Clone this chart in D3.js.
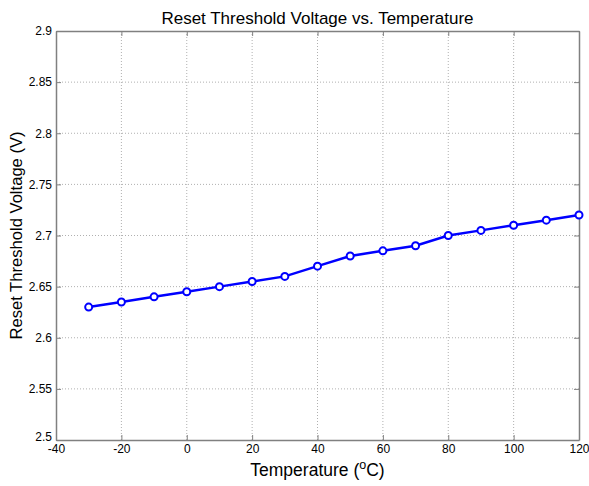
<!DOCTYPE html>
<html>
<head>
<meta charset="utf-8">
<script src="https://cdn.jsdelivr.net/npm/d3@7"></script>
<style>
  body { margin: 0; background: #fff; }
  text { font-family: "Liberation Sans", Arial, sans-serif; }
</style>
</head>
<body>
<div id="chart"></div>
<script>
// Reset threshold voltage vs temperature
const temps = [-30, -20, -10, 0, 10, 20, 30, 40, 50, 60, 70, 80, 90, 100, 110, 120];
const volts = [2.63, 2.635, 2.64, 2.645, 2.65, 2.655, 2.66, 2.67, 2.68, 2.685, 2.69, 2.70, 2.705, 2.71, 2.715, 2.72];
const xTicks = [-40, -20, 0, 20, 40, 60, 80, 100, 120];
const yTicks = [2.5, 2.55, 2.6, 2.65, 2.7, 2.75, 2.8, 2.85, 2.9];

const width = 589, height = 486;
const margin = { top: 31, right: 10, bottom: 46, left: 56 };
const innerW = width - margin.left - margin.right;
const innerH = height - margin.top - margin.bottom;

const svg = d3.select('#chart')
  .append('svg')
  .attr('width', width)
  .attr('height', height);

const x = d3.scaleLinear().domain([-40, 120]).range([margin.left, margin.left + innerW]);
const y = d3.scaleLinear().domain([2.5, 2.9]).range([margin.top + innerH, margin.top]);

const gridColor = '#b0b0b0';

// Grid
svg.append('g')
  .selectAll('line')
  .data(xTicks.slice(1, -1))
  .enter().append('line')
  .attr('x1', d => x(d)).attr('x2', d => x(d))
  .attr('y1', margin.top).attr('y2', margin.top + innerH)
  .attr('stroke', gridColor).attr('stroke-width', 1)
  .attr('stroke-dasharray', '1,2');

svg.append('g')
  .selectAll('line')
  .data(yTicks.slice(1, -1))
  .enter().append('line')
  .attr('y1', d => y(d)).attr('y2', d => y(d))
  .attr('x1', margin.left).attr('x2', margin.left + innerW)
  .attr('stroke', gridColor).attr('stroke-width', 1)
  .attr('stroke-dasharray', '1,2');

// Axes (MATLAB style: inward ticks, box)
const fmt = d => String(+d.toFixed(2));
const axBottom = svg.append('g')
  .attr('transform', `translate(0,${margin.top + innerH})`)
  .call(d3.axisBottom(x).tickValues(xTicks).tickFormat(fmt).tickSize(-5).tickPadding(4).tickSizeOuter(0));
const axTop = svg.append('g')
  .attr('transform', `translate(0,${margin.top})`)
  .call(d3.axisTop(x).tickValues(xTicks).tickSize(-5).tickFormat('').tickSizeOuter(0));
const axLeft = svg.append('g')
  .attr('transform', `translate(${margin.left},0)`)
  .call(d3.axisLeft(y).tickValues(yTicks).tickFormat(fmt).tickSize(-5).tickPadding(4).tickSizeOuter(0));
const axRight = svg.append('g')
  .attr('transform', `translate(${margin.left + innerW},0)`)
  .call(d3.axisRight(y).tickValues(yTicks).tickSize(-5).tickFormat('').tickSizeOuter(0));

[axBottom, axTop, axLeft, axRight].forEach(g => {
  g.selectAll('path').attr('stroke', '#808080').attr('stroke-width', 1.5);
  g.selectAll('line').attr('stroke', '#808080');
  g.selectAll('text').attr('font-size', 12).attr('fill', '#000')
    .style('font-family', '"Liberation Sans", Arial, sans-serif');
});
axLeft.selectAll('text').attr('dy', d => d === 2.5 ? '0.05em' : '0.32em');

// Line
const line = d3.line()
  .x((d, i) => x(temps[i]))
  .y(d => y(d));

svg.append('path')
  .datum(volts)
  .attr('fill', 'none')
  .attr('stroke', '#0000ff')
  .attr('stroke-width', 2.5)
  .attr('d', line);

svg.append('g')
  .selectAll('circle')
  .data(volts)
  .enter().append('circle')
  .attr('cx', (d, i) => x(temps[i]))
  .attr('cy', d => y(d))
  .attr('r', 3.5)
  .attr('fill', '#fff')
  .attr('stroke', '#0000ff')
  .attr('stroke-width', 2);

// Title
svg.append('text')
  .attr('x', margin.left + innerW / 2)
  .attr('y', 24)
  .attr('text-anchor', 'middle')
  .attr('font-size', 17)
  .text('Reset Threshold Voltage vs. Temperature');

// X label with superscript
const xl = svg.append('text')
  .attr('x', margin.left + innerW / 2)
  .attr('y', 476)
  .attr('text-anchor', 'middle')
  .attr('font-size', 17.5);
xl.append('tspan').text('Temperature (');
xl.append('tspan').attr('dy', -7).attr('font-size', 12.5).text('o');
xl.append('tspan').attr('dy', 7).text('C)');

// Y label
svg.append('text')
  .attr('transform', `translate(22,${margin.top + innerH / 2}) rotate(-90)`)
  .attr('text-anchor', 'middle')
  .attr('font-size', 16.6)
  .text('Reset Threshold Voltage (V)');
</script>
</body>
</html>
